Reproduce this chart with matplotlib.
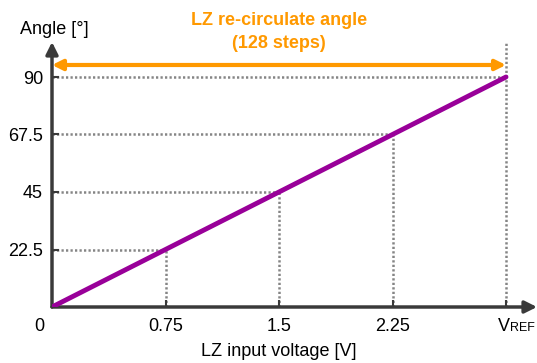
import matplotlib.pyplot as plt

plt.rcParams['font.family'] = ['Liberation Sans', 'DejaVu Sans']

# data
volt_ticks = [0.75, 1.5, 2.25, 3.0]
volt_labels = ['0.75', '1.5', '2.25', '']
angle_ticks = [22.5, 45, 67.5, 90]
angle_labels = ['22.5', '45', '67.5', '90']
line_x = [0, 3.0]
line_y = [0, 90]
vref = 3.0
arrow_y = 94.7

purple = '#990099'
orange = '#FF9900'
grid_gray = '#858585'
axis_gray = '#3a3a3a'

fig = plt.figure(figsize=(5.37, 3.63), dpi=100)
ax = fig.add_axes([52 / 537, 56 / 363, 485 / 537, 265 / 363])
ax.set_xlim(0, 485 * 3.0 / 454)
ax.set_ylim(0, 265 * 90 / 230)

for s in ax.spines.values():
    s.set_visible(False)

# dotted guide lines
dots = (0, (0.9, 0.9))
for x, y in zip(volt_ticks, angle_ticks):
    ax.plot([0, x], [y, y], color=grid_gray, lw=1.8, ls=dots, zorder=1)
    ax.plot([x, x], [0, y], color=grid_gray, lw=1.8, ls=dots, zorder=1)
ax.plot([vref, vref], [90, 103.7], color=grid_gray, lw=1.8, ls=dots, zorder=1)

# axes arrows
ax.annotate('', xy=(1, 0), xytext=(0, 0), xycoords='axes fraction',
            arrowprops=dict(arrowstyle='-|>', color=axis_gray, lw=2.5,
                            mutation_scale=18, shrinkA=0, shrinkB=0))
ax.annotate('', xy=(0, 1), xytext=(0, 0), xycoords='axes fraction',
            arrowprops=dict(arrowstyle='-|>', color=axis_gray, lw=2.5,
                            mutation_scale=18, shrinkA=0, shrinkB=0))

# main line
ax.plot(line_x, line_y, color=purple, lw=3.5, solid_capstyle='round', zorder=3)

# range arrow
ax.annotate('', xy=(vref, arrow_y), xytext=(0, arrow_y),
            arrowprops=dict(arrowstyle='<|-|>', color=orange, lw=3,
                            mutation_scale=15, shrinkA=0, shrinkB=0))
ax.text(1.5, 112.3, 'LZ re-circulate angle', color=orange, fontsize=13,
        fontweight='bold', ha='center', va='center', clip_on=False)
ax.text(1.5, 103.3, '(128 steps)', color=orange, fontsize=13,
        fontweight='bold', ha='center', va='center', clip_on=False)

# ticks
ax.set_xticks(volt_ticks)
ax.set_xticklabels(volt_labels, fontsize=13)
ax.set_yticks(angle_ticks)
ax.set_yticklabels(angle_labels, fontsize=13)
ax.tick_params(axis='both', direction='in', length=5, width=1.5,
               color=axis_gray)
ax.tick_params(axis='x', pad=8)
ax.tick_params(axis='y', pad=6.5)

ax.text(-0.086, -7.6, '0', fontsize=13, ha='center', va='center', clip_on=False)
ax.text(vref + 0.025, -7.6, 'V', fontsize=13, ha='right', va='center', clip_on=False)
ax.text(vref + 0.025, -8.3, 'REF', fontsize=9, ha='left', va='center', clip_on=False)

ax.text(1.5, -17.6, 'LZ input voltage [V]', fontsize=13, ha='center',
        va='center', clip_on=False)
ax.text(0.013, 108.4, 'Angle [°]', fontsize=13, ha='center', va='center',
        clip_on=False)

fig.savefig('out.png', dpi=100)
